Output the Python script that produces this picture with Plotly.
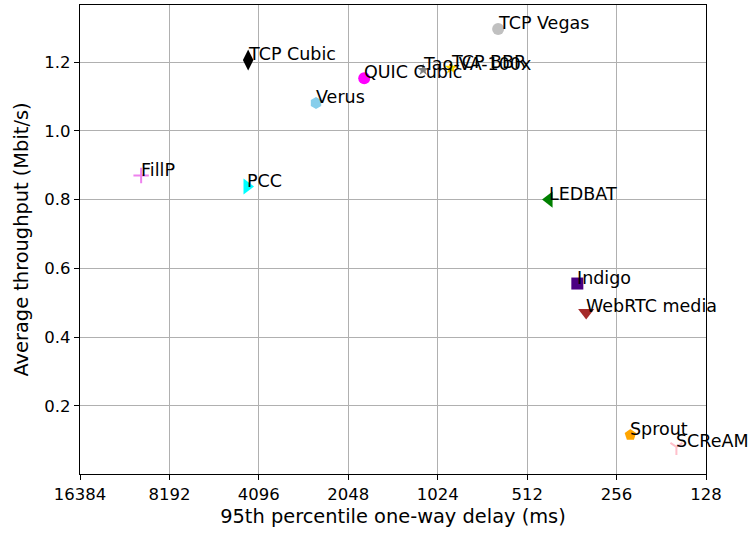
import numpy as np
import plotly.graph_objects as go

schemes = ["TCP Cubic", "QUIC Cubic", "Verus", "FillP", "PCC", "TCP Vegas",
           "Tao-VA-100x", "TCP BBR", "LEDBAT", "Indigo", "WebRTC media",
           "Sprout", "SCReAM"]
delay_ms = [4450, 1810, 2630, 10200, 4490, 641, 1146, 923, 432, 347, 324, 230, 161]
throughput = [1.206, 1.153, 1.081, 0.870, 0.838, 1.296, 1.177, 1.183, 0.800,
              0.556, 0.472, 0.116, 0.081]
colors = ["black", "magenta", "skyblue", "violet", "cyan", "silver", "gray",
          "gold", "green", "indigo", "brown", "orange", "pink"]
symbols = ["diamond-tall", "circle", "hexagon", "cross-thin", "triangle-right",
           "circle", "star", "star", "triangle-left", "square", "triangle-down",
           "pentagon", "y-down"]
sizes = [15, 12, 12, 11, 14, 12, 9, 10, 14, 12, 14, 12, 10]

xticks = [16384, 8192, 4096, 2048, 1024, 512, 256, 128]
yticks = [0.2, 0.4, 0.6, 0.8, 1.0, 1.2]

fig = go.Figure()
for name, x, y, c, s, sz in zip(schemes, delay_ms, throughput, colors, symbols, sizes):
    line_sym = s in ("cross-thin", "y-down")
    fig.add_trace(go.Scatter(
        x=[x], y=[y], mode="markers", name=name,
        marker=dict(color=c, symbol=s, size=sz,
                    line=dict(color=c, width=2 if line_sym else 0)),
        showlegend=False))
    fig.add_annotation(x=np.log10(x), y=y, text=name, showarrow=False,
                       xanchor="left", yanchor="bottom", xshift=-2, yshift=-6,
                       font=dict(family="DejaVu Sans", size=17.5, color="black"))

fig.update_xaxes(type="log", range=[np.log10(xticks[0]), np.log10(xticks[-1])],
                 tickvals=xticks, ticktext=[str(t) for t in xticks],
                 showgrid=True, gridcolor="#b0b0b0", gridwidth=1,
                 showline=True, linecolor="black", linewidth=1.3, mirror=True,
                 ticks="outside", ticklen=5, tickcolor="black",
                 tickfont=dict(family="DejaVu Sans", size=16.5, color="black"),
                 title=dict(text="95th percentile one-way delay (ms)",
                            font=dict(family="DejaVu Sans", size=19.4, color="black"),
                            standoff=6),
                 zeroline=False)
fig.update_yaxes(range=[0.0023, 1.3657], tickvals=yticks,
                 ticktext=[f"{t:.1f}" for t in yticks],
                 showgrid=True, gridcolor="#b0b0b0", gridwidth=1,
                 showline=True, linecolor="black", linewidth=1.3, mirror=True,
                 ticks="outside", ticklen=5, tickcolor="black",
                 tickfont=dict(family="DejaVu Sans", size=16.5, color="black"),
                 title=dict(text="Average throughput (Mbit/s)",
                            font=dict(family="DejaVu Sans", size=19.4, color="black"),
                            standoff=10),
                 zeroline=False)
fig.update_layout(width=751, height=533, plot_bgcolor="white", paper_bgcolor="white",
                  margin=dict(l=80, r=45, t=5, b=59))
fig.write_html("out.html", config={"displayModeBar": False},
               post_script="document.body.style.margin='0';document.body.style.overflow='hidden';")
